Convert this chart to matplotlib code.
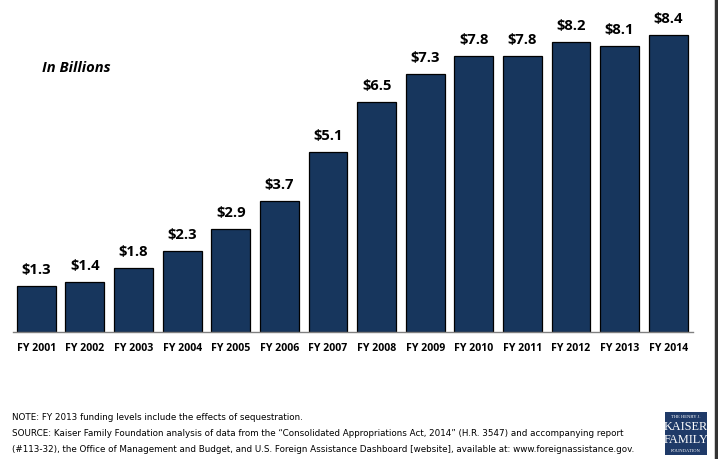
import matplotlib
matplotlib.use("Agg")
import matplotlib.pyplot as plt
from matplotlib.patches import Rectangle
from matplotlib.lines import Line2D

years = ["FY 2001", "FY 2002", "FY 2003", "FY 2004", "FY 2005", "FY 2006", "FY 2007",
         "FY 2008", "FY 2009", "FY 2010", "FY 2011", "FY 2012", "FY 2013", "FY 2014"]
values = [1.3, 1.4, 1.8, 2.3, 2.9, 3.7, 5.1, 6.5, 7.3, 7.8, 7.8, 8.2, 8.1, 8.4]
labels = ["$1.3", "$1.4", "$1.8", "$2.3", "$2.9", "$3.7", "$5.1",
          "$6.5", "$7.3", "$7.8", "$7.8", "$8.2", "$8.1", "$8.4"]

W, H = 718, 459
fig = plt.figure(figsize=(W / 100, H / 100), dpi=100)
fig.patch.set_facecolor("white")

ax_left, ax_right, ax_bottom, ax_top = 13, 693, 332, 20
ax = fig.add_axes([ax_left / W, 1 - ax_bottom / H, (ax_right - ax_left) / W, (ax_bottom - ax_top) / H])
x = list(range(len(years)))
ax.bar(x, values, width=0.8, color="#17365D", edgecolor="#000000", linewidth=0.9, zorder=2)
ax.set_xlim(-0.48, 13.51)
ax.set_ylim(0, 312 / 35.36)
for s in ["top", "right", "left"]:
    ax.spines[s].set_visible(False)
ax.spines["bottom"].set_color("#808080")
ax.spines["bottom"].set_linewidth(1.0)
ax.set_yticks([])
ax.set_xticks(x)
ax.set_xticklabels(years, fontsize=7.6, fontweight="bold", family="Open Sans")
ax.tick_params(axis="x", length=0, pad=8)

for xi, v, lab in zip(x, values, labels):
    ax.annotate(lab, (xi, v), xytext=(0, 6.5), textcoords="offset points",
                ha="center", va="bottom", fontsize=10.6, fontweight="bold", family="Open Sans")

fig.text(42 / W, 1 - 68 / H, "In Billions", fontsize=10.6, fontweight="bold", style="italic",
         family="Open Sans", ha="left", va="center")

note_font = dict(fontsize=6.3, family="Liberation Sans Narrow", ha="left", va="center", color="#000000")
fig.text(12 / W, 1 - 417 / H, "NOTE: FY 2013 funding levels include the effects of sequestration.", **note_font)
fig.text(12 / W, 1 - 433 / H,
         "SOURCE: Kaiser Family Foundation analysis of data from the \u201cConsolidated Appropriations Act, 2014\u201d (H.R. 3547) and accompanying report",
         **note_font)
fig.text(12 / W, 1 - 449 / H,
         "(#113-32), the Office of Management and Budget, and U.S. Foreign Assistance Dashboard [website], available at: www.foreignassistance.gov.",
         **note_font)

# logo
lx0, ly0, lx1, ly1 = 665, 412, 707, 455
fig.patches.append(Rectangle((lx0 / W, 1 - ly1 / H), (lx1 - lx0) / W, (ly1 - ly0) / H,
                             transform=fig.transFigure, facecolor="#1F3A68", edgecolor="none"))
cx = (lx0 + lx1) / 2 / W
fig.text(cx, 1 - 417 / H, "THE HENRY J.", fontsize=3.3, color="white", family="Liberation Serif", ha="center", va="center")
fig.text(cx, 1 - 427 / H, "KAISER", fontsize=8.8, color="white", family="Liberation Serif", ha="center", va="center")
fig.text(cx, 1 - 440 / H, "FAMILY", fontsize=8.8, color="white", family="Liberation Serif", ha="center", va="center")
fig.text(cx, 1 - 451 / H, "FOUNDATION", fontsize=3.3, color="white", family="Liberation Serif", ha="center", va="center")

# right border line
fig.lines.append(Line2D([715.5 / W, 715.5 / W], [0, 1], transform=fig.transFigure, color="#333333", linewidth=2.5))

fig.savefig("out.png", dpi=100)
